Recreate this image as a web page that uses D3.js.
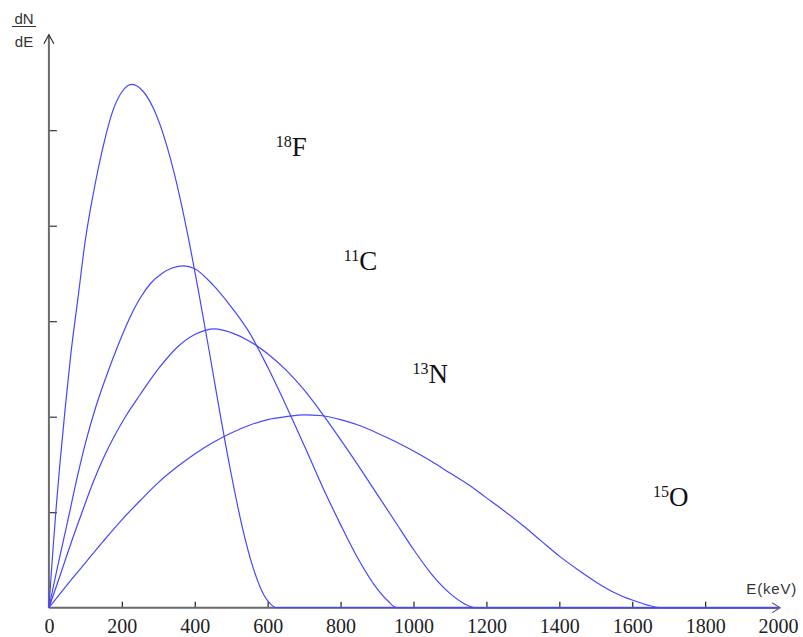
<!DOCTYPE html>
<html><head><meta charset="utf-8">
<script src="https://cdn.jsdelivr.net/npm/d3@7"></script>
<style>body{margin:0;background:#fff}</style>
</head><body><svg id="c" width="803" height="637"></svg>
<script>
// Energy (keV) and dN/dE (arbitrary units)
const f18E = [0, 10, 20, 30, 45, 60, 80, 100, 125, 150, 175, 200, 227, 260, 290, 320, 350, 380, 410, 440, 470, 500, 530, 560, 590, 610, 625, 2000];
const f18V = [0, 0.55, 1.05, 1.50, 2.10, 2.65, 3.25, 3.85, 4.40, 4.85, 5.20, 5.40, 5.48, 5.40, 5.20, 4.88, 4.45, 3.92, 3.32, 2.68, 2.02, 1.40, 0.85, 0.42, 0.13, 0.03, 0, 0];
const c11E = [0, 25, 50, 75, 100, 130, 160, 190, 220, 250, 280, 310, 340, 369, 400, 450, 500, 550, 600, 650, 700, 750, 800, 850, 900, 930, 954, 2000];
const c11V = [0, 0.45, 0.88, 1.32, 1.72, 2.12, 2.45, 2.75, 3.02, 3.24, 3.40, 3.50, 3.56, 3.58, 3.55, 3.38, 3.15, 2.88, 2.52, 2.12, 1.70, 1.27, 0.87, 0.50, 0.20, 0.07, 0, 0];
const n13E = [0, 30, 60, 90, 120, 150, 180, 210, 250, 300, 350, 400, 455, 500, 550, 600, 650, 700, 750, 800, 850, 900, 950, 1000, 1050, 1100, 1140, 1170, 2000];
const n13V = [0, 0.33, 0.67, 0.99, 1.30, 1.57, 1.80, 2.00, 2.23, 2.50, 2.72, 2.86, 2.92, 2.88, 2.79, 2.66, 2.49, 2.28, 2.03, 1.76, 1.48, 1.19, 0.90, 0.61, 0.35, 0.15, 0.04, 0, 0];
const o15E = [0, 50, 100, 150, 200, 250, 300, 350, 400, 450, 500, 550, 600, 650, 700, 750, 800, 850, 900, 950, 1000, 1050, 1100, 1150, 1200, 1250, 1300, 1350, 1400, 1450, 1500, 1550, 1600, 1640, 1680, 2000];
const o15V = [0, 0.24, 0.47, 0.70, 0.92, 1.12, 1.31, 1.47, 1.61, 1.73, 1.83, 1.91, 1.97, 2.00, 2.02, 2.01, 1.97, 1.91, 1.83, 1.74, 1.64, 1.53, 1.41, 1.29, 1.15, 1.01, 0.86, 0.70, 0.54, 0.40, 0.27, 0.16, 0.08, 0.03, 0, 0];
const xTicks = [0, 200, 400, 600, 800, 1000, 1200, 1400, 1600, 1800, 2000];
const yTicks = [1, 2, 3, 4, 5];
const isoMass = ["18", "11", "13", "15"];
const isoSym = ["F", "C", "N", "O"];
// label anchor positions in data units (E keV, dN/dE)
const labE = [622, 809, 997, 1657];
const labV = [4.73, 3.54, 2.35, 1.06];

const svg = d3.select("#c");
const x = d3.scaleLinear().domain([0, 2000]).range([48.9, 778.1]);
const y = d3.scaleLinear().domain([0, 6]).range([607.7, 34.7]);

// x axis
const gx = svg.append("g").attr("transform", `translate(0,${y(0)})`)
  .call(d3.axisBottom(x).tickValues(xTicks).tickSize(-6).tickPadding(11).tickFormat(d3.format("d")));
gx.select(".domain").remove();
gx.selectAll(".tick line").attr("stroke", "#222").attr("stroke-width", 1.2)
  .filter(d => d === 0 || d === 2000).remove();
gx.selectAll(".tick text").attr("font-family", "'Liberation Serif','Times New Roman',serif")
  .attr("font-size", 20).attr("fill", "#222");

// y axis
const gy = svg.append("g").attr("transform", `translate(${x(0)},0)`)
  .call(d3.axisRight(y).tickValues(yTicks).tickSize(8).tickFormat(""));
gy.select(".domain").remove();
gy.selectAll(".tick line").attr("stroke", "#333").attr("stroke-width", 1.2);

// axis lines with open arrowheads
const axisCol = "#6a6a6a";
svg.append("line").attr("x1", x(0)).attr("y1", y(0)).attr("x2", x(2000) + 2).attr("y2", y(0))
  .attr("stroke", axisCol).attr("stroke-width", 2);
svg.append("path").attr("d", `M${x(2000) - 6},${y(0) - 5}L${x(2000) + 2},${y(0)}L${x(2000) - 6},${y(0) + 5}`)
  .attr("fill", "none").attr("stroke", axisCol).attr("stroke-width", 1.2);
svg.append("line").attr("x1", x(0)).attr("y1", y(0)).attr("x2", x(0)).attr("y2", y(6))
  .attr("stroke", axisCol).attr("stroke-width", 2);
svg.append("path").attr("d", `M${x(0) - 5},${y(6) + 9}L${x(0)},${y(6)}L${x(0) + 5},${y(6) + 9}`)
  .attr("fill", "none").attr("stroke", "#333").attr("stroke-width", 1.2);

// curves
const series = [[f18E, f18V], [c11E, c11V], [n13E, n13V], [o15E, o15V]];
const line = d3.line().x(d => x(d[0])).y(d => y(d[1])).curve(d3.curveMonotoneX);
series.forEach(([E, V]) => {
  svg.append("path").datum(E.map((e, i) => [e, V[i]]))
    .attr("d", line).attr("fill", "none").attr("stroke", "#4646ff").attr("stroke-width", 1.2);
});

// isotope labels
isoMass.forEach((m, i) => {
  const t = svg.append("text").attr("x", x(labE[i])).attr("y", y(labV[i]))
    .attr("font-family", "'Liberation Serif','Times New Roman',serif").attr("fill", "#111");
  t.append("tspan").attr("font-size", 16).attr("dy", -9).text(m);
  t.append("tspan").attr("font-size", 27).attr("dy", 9).text(isoSym[i]);
});

// axis titles
const sans = "'Liberation Sans',Arial,sans-serif";
svg.append("text").attr("x", 24).attr("y", 24).attr("text-anchor", "middle")
  .attr("font-family", sans).attr("font-size", 15).attr("fill", "#333").text("dN");
svg.append("line").attr("x1", 12).attr("x2", 36).attr("y1", 26.5).attr("y2", 26.5)
  .attr("stroke", "#333").attr("stroke-width", 1);
svg.append("text").attr("x", 24).attr("y", 47).attr("text-anchor", "middle")
  .attr("font-family", sans).attr("font-size", 15).attr("fill", "#333").text("dE");
svg.append("text").attr("x", 797).attr("y", 594).attr("text-anchor", "end")
  .attr("font-family", sans).attr("font-size", 15).attr("letter-spacing", 0.8).attr("fill", "#333").text("E(keV)");
</script></body></html>
